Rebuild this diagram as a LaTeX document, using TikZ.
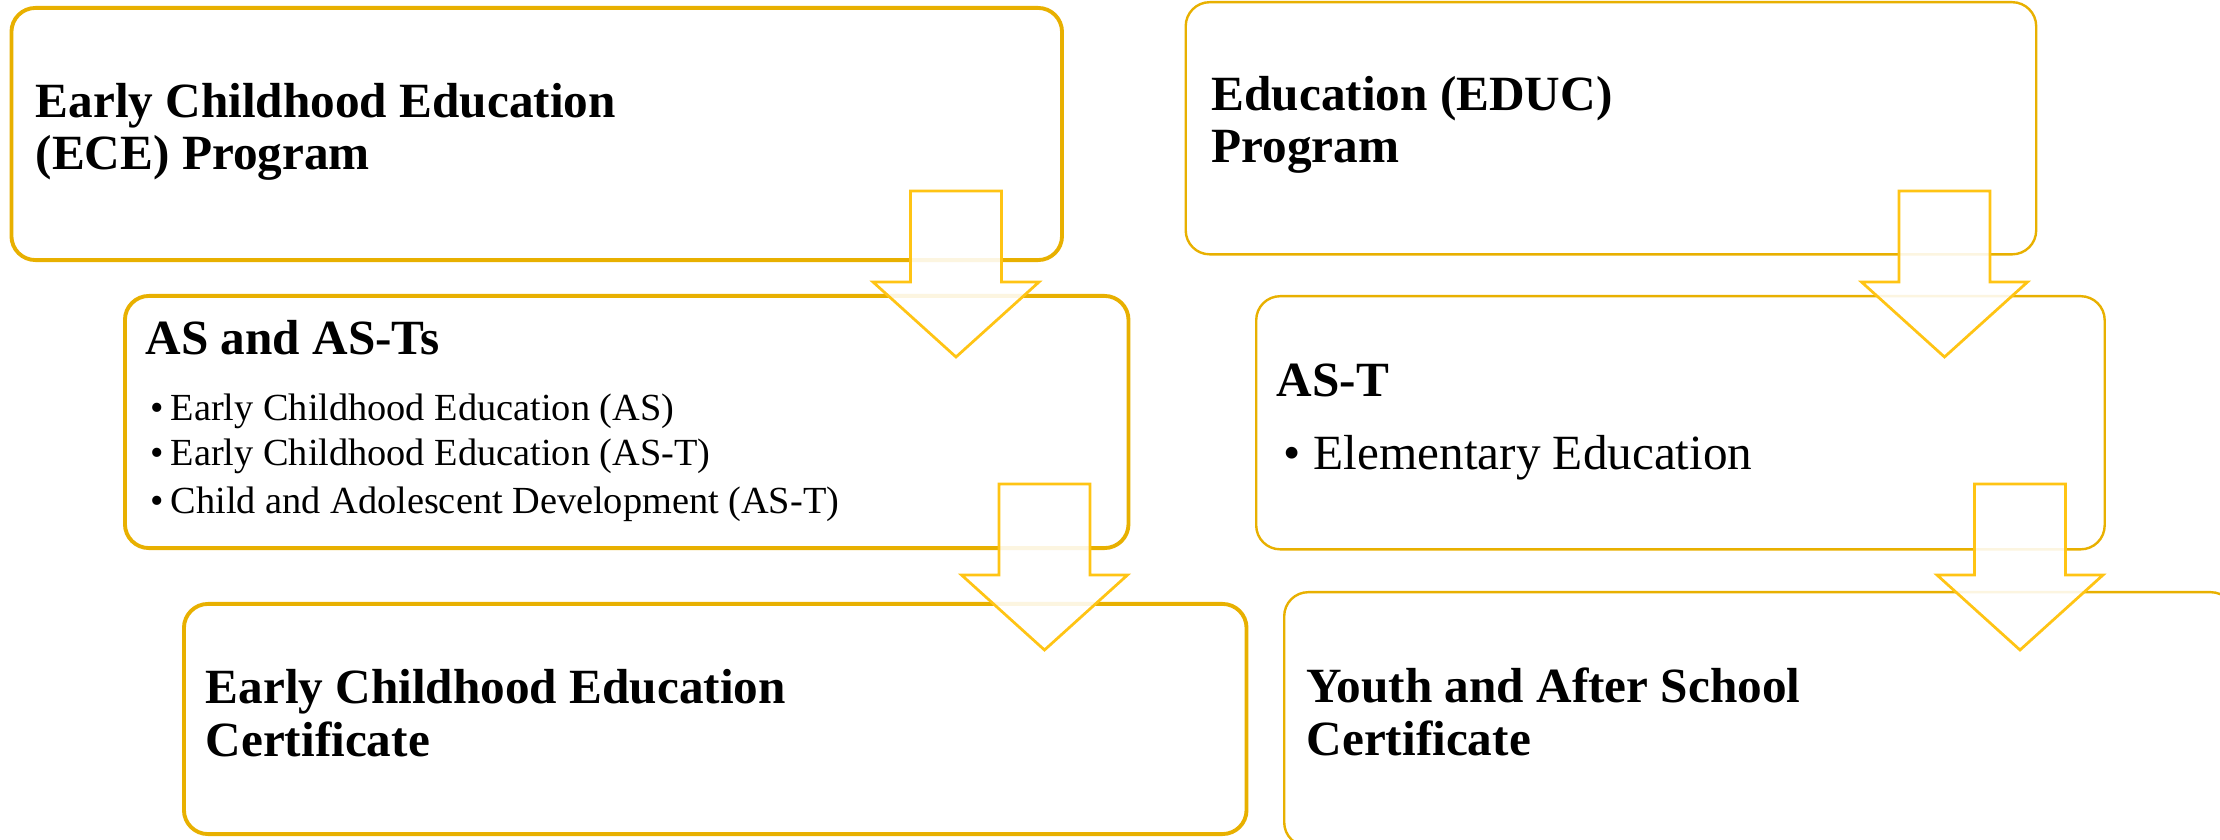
\documentclass[tikz,border=0pt]{standalone}
\usepackage{fontspec}
\setmainfont{Liberation Serif}
\definecolor{boxgold}{RGB}{232,176,0}
\definecolor{arrgold}{RGB}{255,196,20}
\tikzset{
  lbox/.style={draw=boxgold, line width=1.1pt, rounded corners=0.24cm, fill=white, inner sep=0, anchor=north west},
  rbox/.style={draw=boxgold, line width=0.68pt, rounded corners=0.24cm, fill=white, inner sep=0, anchor=north west},
  ttl/.style={anchor=base west, inner sep=0, font=\fontsize{14}{15}\selectfont\bfseries},
  lbul/.style={anchor=base west, inner sep=0, font=\fontsize{10.9}{13}\selectfont},
  rbul/.style={anchor=base west, inner sep=0, font=\fontsize{14}{15}\selectfont},
  arr/.style={draw=arrgold, line width=0.78pt, fill=white, fill opacity=0.88, line join=miter},
  downarrow/.pic={\path[arr] (-45.5,0) -- (45.5,0) -- (45.5,91) -- (83,91) -- (0,166) -- (-83,91) -- (-45.5,91) -- cycle;}
}
\begin{document}
\begin{tikzpicture}[x=0.01cm,y=-0.01cm]
\useasboundingbox (0,0) rectangle (2220,840);
\fill[white] (0,0) rectangle (2220,840);
\clip (0,0) rectangle (2220,840);
% left column
\node[lbox, minimum width=10.5cm, minimum height=2.52cm] (b1) at (9.5,6) {};
\node[lbox, minimum width=10.03cm, minimum height=2.52cm] (b2) at (123,294) {};
\node[lbox, minimum width=10.62cm, minimum height=2.3cm] (b3) at (182,602) {};
% right column
\node[rbox, minimum width=8.5cm, minimum height=2.52cm] (b4) at (1184.5,1) {};
\node[rbox, minimum width=8.48cm, minimum height=2.53cm] (b5) at (1255,295) {};
\node[rbox, minimum width=9.5cm, minimum height=2.54cm] (b6) at (1283,591) {};
% texts
\node[ttl] (t1a) at (35,118) {Early Childhood Education};
\node[ttl] (t1b) at (35,170) {(ECE) Program};
\node[ttl] (t2) at (145,355) {AS and AS-Ts};
\node[lbul] (t2a) at (150,421) {\makebox[0.2cm][l]{•}Early Childhood Education (AS)};
\node[lbul] (t2b) at (150,466) {\makebox[0.2cm][l]{•}Early Childhood Education (AS-T)};
\node[lbul] (t2c) at (150,514) {\makebox[0.2cm][l]{•}Child and Adolescent Development (AS-T)};
\node[ttl] (t3a) at (205,704) {Early Childhood Education};
\node[ttl] (t3b) at (205,757) {Certificate};
\node[ttl] (t4a) at (1211,111) {Education (EDUC)};
\node[ttl] (t4b) at (1211,163) {Program};
\node[ttl] (t5) at (1276,397) {AS-T};
\node[rbul] (t5a) at (1283,470) {\makebox[0.3cm][l]{•}Elementary Education};
\node[ttl] (t6a) at (1306,703) {Youth and After School};
\node[ttl] (t6b) at (1306,755) {Certificate};
% block arrows
\pic at (956,191) {downarrow};
\pic at (1044.5,484) {downarrow};
\pic at (1944.5,191) {downarrow};
\pic at (2020,484) {downarrow};
\end{tikzpicture}
\end{document}
